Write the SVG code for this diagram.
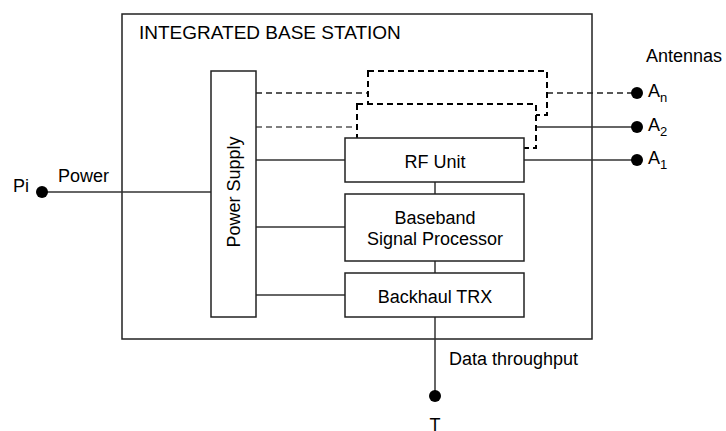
<svg xmlns="http://www.w3.org/2000/svg" width="726" height="431" viewBox="0 0 726 431">
<style>
text{font-family:"Liberation Sans",Arial,sans-serif;font-size:18px;fill:#000}
.title{font-size:19px}
.box{fill:#fff;stroke:#222;stroke-width:1.5}
.dbox{fill:#fff;stroke:#000;stroke-width:2;stroke-dasharray:6 4}
.ln{stroke:#333;stroke-width:1.5;fill:none}
.dl{stroke:#222;stroke-width:1.5;fill:none;stroke-dasharray:6 4}
.dl2{stroke:#555;stroke-width:1.5;fill:none;stroke-dasharray:6 4}
.dot{fill:#000}
.sub{font-size:13px}
</style>
<rect width="726" height="431" fill="#fff"/>
<g id="station">
<rect class="box" x="122" y="14" width="470" height="325" fill="none"/>
<text class="title" x="139" y="39">INTEGRATED BASE STATION</text>
</g>
<g id="connectors">
<line class="ln" x1="42" y1="192" x2="211" y2="192"/>
<line class="dl" x1="256" y1="93" x2="368" y2="93"/>
<line class="dl2" x1="256" y1="127" x2="357" y2="127"/>
<line class="ln" x1="256" y1="160" x2="345" y2="160"/>
<line class="ln" x1="256" y1="227" x2="345" y2="227"/>
<line class="ln" x1="256" y1="295" x2="345" y2="295"/>
<line class="dl" x1="547" y1="93" x2="637" y2="93"/>
<line class="ln" x1="536" y1="127" x2="637" y2="127"/>
<line class="ln" x1="524" y1="160" x2="637" y2="160"/>
<line class="ln" x1="435" y1="182" x2="435" y2="194"/>
<line class="ln" x1="435" y1="261" x2="435" y2="273"/>
<line class="ln" x1="435" y1="317" x2="435" y2="396"/>
</g>
<g id="power-supply">
<rect class="box" x="211" y="71" width="45" height="246"/>
<text transform="translate(240 192) rotate(-90)" text-anchor="middle">Power Supply</text>
</g>
<g id="rf-unit-n">
<rect class="dbox" x="368" y="71" width="179" height="44"/>
</g>
<g id="rf-unit-2">
<rect class="dbox" x="357" y="104" width="179" height="44"/>
</g>
<g id="rf-unit">
<rect class="box" x="345" y="138" width="179" height="44"/>
<text x="435" y="168" text-anchor="middle">RF Unit</text>
</g>
<g id="baseband">
<rect class="box" x="345" y="194" width="179" height="67"/>
<text x="435" y="224" text-anchor="middle">Baseband</text>
<text x="435" y="245" text-anchor="middle">Signal Processor</text>
</g>
<g id="backhaul">
<rect class="box" x="345" y="273" width="179" height="44"/>
<text x="435" y="303" text-anchor="middle">Backhaul TRX</text>
</g>
<g id="pi">
<circle class="dot" cx="42" cy="192" r="6"/>
<text x="13" y="192">Pi</text>
<text x="58" y="182">Power</text>
</g>
<g id="antennas">
<text x="646" y="62">Antennas</text>
<circle class="dot" cx="637" cy="93" r="6"/>
<text x="648" y="97">A<tspan class="sub" dy="5">n</tspan></text>
<circle class="dot" cx="637" cy="127" r="6"/>
<text x="648" y="131">A<tspan class="sub" dy="5">2</tspan></text>
<circle class="dot" cx="637" cy="160" r="6"/>
<text x="648" y="164">A<tspan class="sub" dy="5">1</tspan></text>
</g>
<g id="t">
<circle class="dot" cx="435" cy="396" r="6"/>
<text x="435" y="431" text-anchor="middle">T</text>
<text x="449" y="365">Data throughput</text>
</g>
</svg>
